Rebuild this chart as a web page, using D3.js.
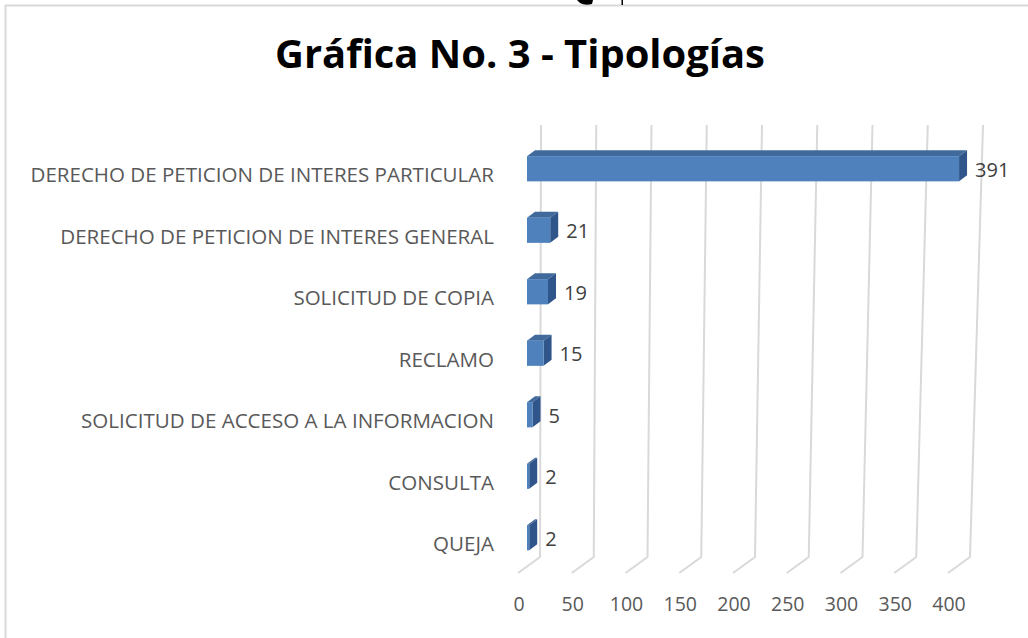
<!DOCTYPE html>
<html>
<head>
<meta charset="utf-8">
<script src="https://cdn.jsdelivr.net/npm/d3@7"></script>
<style>
  body { margin: 0; background: #fff; }
  svg { display: block; }
</style>
</head>
<body>
<div id="chart"></div>
<script>
// data
var categories = [
  "DERECHO DE PETICION DE INTERES PARTICULAR",
  "DERECHO DE PETICION DE INTERES GENERAL",
  "SOLICITUD DE COPIA",
  "RECLAMO",
  "SOLICITUD DE ACCESO A LA INFORMACION",
  "CONSULTA",
  "QUEJA"
];
var values = [391, 21, 19, 15, 5, 2, 2];
var ticks = [0, 50, 100, 150, 200, 250, 300, 350, 400];
var title = "Gráfica No. 3 - Tipologías";

var width = 1028, height = 638;
var font = "'Open Sans', 'Noto Sans', sans-serif";
var depth = {dx: 8, dy: -6};
var wallTop = 125, wallBottom = 557;

var svg = d3.select("#chart").append("svg")
    .attr("width", width)
    .attr("height", height);

// chart border (only top + left visible in the crop)
svg.append("line").attr("x1", 5).attr("x2", 1028).attr("y1", 5.5).attr("y2", 5.5)
    .attr("stroke", "#d9d9d9").attr("stroke-width", 2);
svg.append("line").attr("x1", 5.5).attr("x2", 5.5).attr("y1", 5).attr("y2", 638)
    .attr("stroke", "#d9d9d9").attr("stroke-width", 2);

// bits of the page above the chart
svg.append("path").attr("d", "M577,0 L593,0 L592,4 Q585,6 580,3 Z").attr("fill", "#000");
svg.append("rect").attr("x", 621.5).attr("y", 0).attr("width", 1.5).attr("height", 5).attr("fill", "#000");

// scales: back wall top / bottom, floor front edge, bar front face
var xTop = d3.scaleLinear().domain([0, 400]).range([541, 983]);
var xBot = d3.scaleLinear().domain([0, 400]).range([540, 970]);
var xFront = d3.scaleLinear().domain([0, 400]).range([518, 948]);
var xBar = d3.scaleLinear().domain([0, 400]).range([527, 969]);

var y = d3.scaleBand()
    .domain(categories)
    .range([138, 568.5])
    .paddingInner(0.59)
    .paddingOuter(0.295);

// gridlines (wall + floor)
var grid = svg.append("g").attr("fill", "none").attr("stroke", "#d9d9d9").attr("stroke-width", 2);
grid.selectAll("path")
    .data(ticks)
    .enter()
    .append("path")
    .attr("d", function(d) {
        return "M" + xTop(d) + "," + wallTop +
               " L" + xBot(d) + "," + wallBottom +
               " L" + xFront(d) + "," + (wallBottom + 16);
    });

// tick labels
svg.append("g")
    .selectAll("text")
    .data(ticks)
    .enter()
    .append("text")
    .attr("x", function(d) { return xFront(d) + 1; })
    .attr("y", 611)
    .attr("text-anchor", "middle")
    .attr("font-family", font)
    .attr("font-size", 19.5)
    .attr("fill", "#595959")
    .text(function(d) { return d; });

// 3d bars
var rows = categories.map(function(c, i) { return {cat: c, value: values[i]}; });
var bars = svg.append("g").selectAll("g")
    .data(rows)
    .enter()
    .append("g");

// top face
bars.append("path")
    .attr("fill", "#416a9c")
    .attr("d", function(d) {
        var x0 = xBar(0), x1 = xBar(d.value), t = y(d.cat);
        return "M" + x0 + "," + t + " L" + (x0 + depth.dx) + "," + (t + depth.dy) +
               " L" + (x1 + depth.dx) + "," + (t + depth.dy) + " L" + x1 + "," + t + " Z";
    });
// side face
bars.append("path")
    .attr("fill", "#30558a")
    .attr("d", function(d) {
        var x1 = xBar(d.value), t = y(d.cat), b = t + y.bandwidth();
        return "M" + x1 + "," + t + " L" + (x1 + depth.dx) + "," + (t + depth.dy) +
               " L" + (x1 + depth.dx) + "," + (b + depth.dy) + " L" + x1 + "," + b + " Z";
    });
// front face
bars.append("rect")
    .attr("x", xBar(0))
    .attr("y", function(d) { return y(d.cat); })
    .attr("width", function(d) { return xBar(d.value) - xBar(0); })
    .attr("height", y.bandwidth())
    .attr("fill", "#4f81bd");

// value labels
bars.append("text")
    .attr("x", function(d) { return xBar(d.value) + depth.dx + 8; })
    .attr("y", function(d) { return y(d.cat) + y.bandwidth() / 2 + 8; })
    .attr("font-family", font)
    .attr("font-size", 20)
    .attr("fill", "#404040")
    .text(function(d) { return d.value; });

// category labels, sized so the longest matches the reference width
var catLabels = svg.append("g")
    .selectAll("text")
    .data(categories)
    .enter()
    .append("text")
    .attr("x", 494)
    .attr("y", function(d) { return y(d) + y.bandwidth() / 2 + 13.5; })
    .attr("text-anchor", "end")
    .attr("font-family", font)
    .attr("font-size", 19)
    .attr("fill", "#595959")
    .text(function(d) { return d; });
var w0 = catLabels.nodes()[0].getComputedTextLength();
catLabels.attr("font-size", 19 * 464 / w0);

// title
var t = svg.append("text")
    .attr("x", 520)
    .attr("y", 68)
    .attr("text-anchor", "middle")
    .attr("font-family", font)
    .attr("font-weight", "bold")
    .attr("font-size", 40)
    .attr("fill", "#000")
    .text(title);
var tw = t.node().getComputedTextLength();
t.attr("font-size", 40 * 490 / tw);
</script>
</body>
</html>
